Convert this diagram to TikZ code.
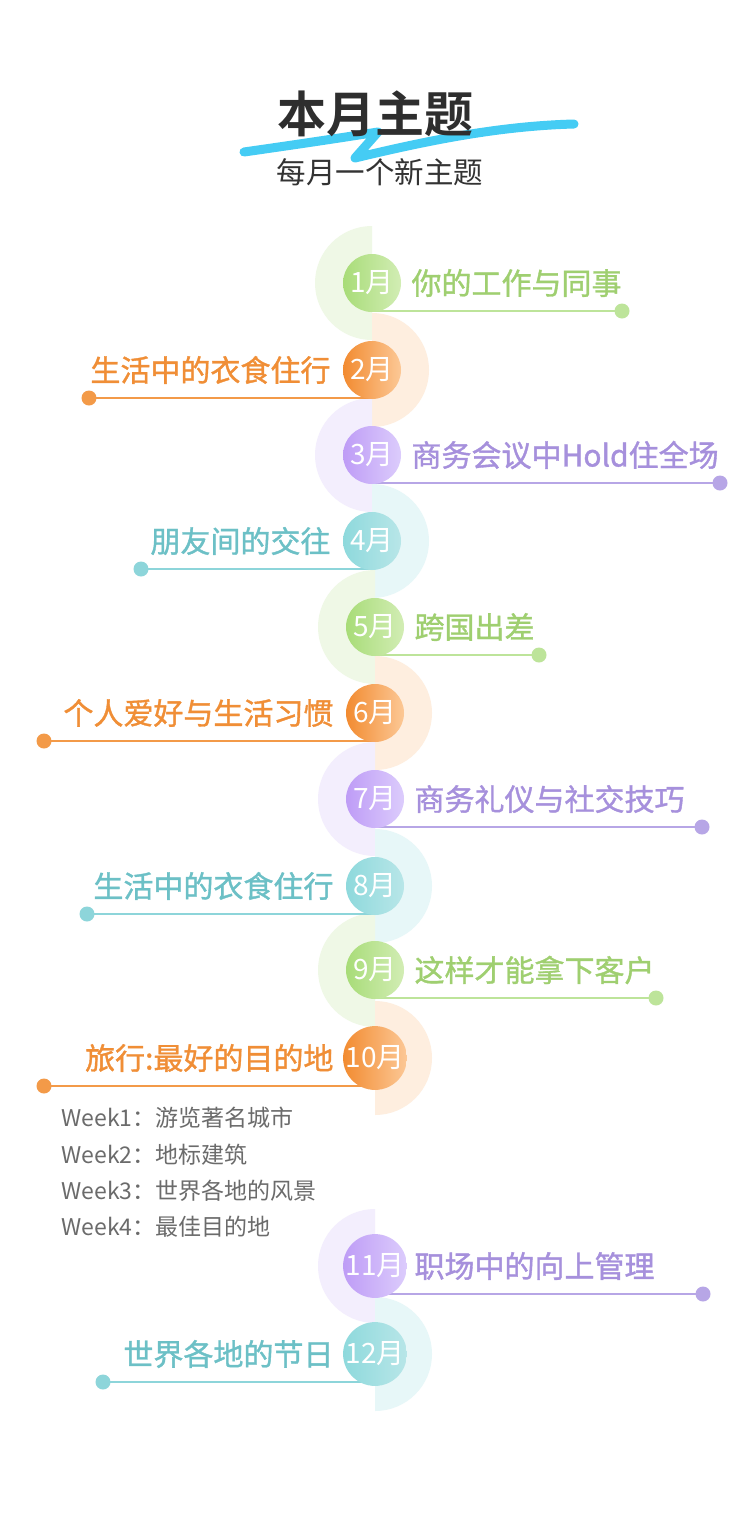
\documentclass[tikz,border=0pt]{standalone}
\usepackage{fontspec}
\setmainfont{Noto Sans CJK SC}
\newfontfamily\cjkb{Noto Sans CJK SC Bold}
\newfontfamily\cjkm[FakeBold=1.2]{Noto Sans CJK SC}
\definecolor{gT}{HTML}{9FCF70}\definecolor{gL}{HTML}{BDE49A}\definecolor{gP}{HTML}{EFF8E6}\definecolor{gA}{HTML}{A8DC78}\definecolor{gB}{HTML}{D2EDB4}
\definecolor{oT}{HTML}{F08E36}\definecolor{oL}{HTML}{F39A48}\definecolor{oP}{HTML}{FEEEDF}\definecolor{oA}{HTML}{F28B30}\definecolor{oB}{HTML}{FCC896}
\definecolor{pT}{HTML}{A690DC}\definecolor{pL}{HTML}{B7A6E6}\definecolor{pP}{HTML}{F3EEFD}\definecolor{pA}{HTML}{BE9CF6}\definecolor{pB}{HTML}{DCCCFC}
\definecolor{tT}{HTML}{6CC0C6}\definecolor{tL}{HTML}{8DD5DA}\definecolor{tP}{HTML}{E7F7F8}\definecolor{tA}{HTML}{8ED9DC}\definecolor{tB}{HTML}{B8E6E8}
\definecolor{sw}{HTML}{45CCF4}
\begin{document}
\begin{tikzpicture}[x=1pt,y=-1pt,
  mtext/.style={font=\cjkm\fontsize{30}{30}\selectfont},
  mcirc/.style={circle,minimum size=58pt,inner sep=0pt,text=white,font=\fontsize{28}{28}\selectfont},
  wk/.style={anchor=west,text=black!58,font=\fontsize{23}{23}\selectfont}]
\useasboundingbox[fill=white] (0,0) rectangle (750,1518);
% title
\draw[sw,line width=9pt,line cap=round,line join=round] (244,152) .. controls (300,144) and (340,138) .. (378,132) -- (355,158) .. controls (430,140) and (500,126) .. (574,124);
\node[font=\cjkb\fontsize{49}{49}\selectfont,text=black!82] (title) at (375,114) {本月主题};
\node[font=\fontsize{29.5}{29.5}\selectfont,text=black!80] (sub) at (380,172) {每月一个新主题};
\def\items{283/1/g/622/你的工作与同事/1月,
370/-1/o/89/生活中的衣食住行/2月,
455/1/p/720/商务会议中Hold住全场/3月,
541/-1/t/141/朋友间的交往/4月,
627/1/g/539/跨国出差/5月,
713/-1/o/44/个人爱好与生活习惯/6月,
799/1/p/702/商务礼仪与社交技巧/7月,
886/-1/t/87/生活中的衣食住行/8月,
970/1/g/656/这样才能拿下客户/9月,
1058/-1/o/44/旅行:最好的目的地/10月,
1266/1/p/703/职场中的向上管理/11月,
1354/-1/t/103/世界各地的节日/12月}
\foreach \y/\s/\c/\dx/\lab/\m [count=\i] in \items {
  \pgfmathsetmacro{\cx}{\i<5 ? 372 : 375}
  \ifnum\s=1
    \fill[\c P] (\cx,\y-57) arc[start angle=270,end angle=90,radius=57] -- cycle;
  \else
    \fill[\c P] (\cx,\y-57) arc[start angle=270,end angle=450,radius=57] -- cycle;
  \fi
}
\foreach \y/\s/\c/\dx/\lab/\m [count=\i] in \items {
  \pgfmathsetmacro{\cx}{\i<5 ? 372 : 375}
  \coordinate (e\i) at (\dx,\y+28);
  \draw[\c L,line width=2.6pt] (\cx,\y+28) -- (e\i);
  \fill[\c L] (e\i) circle[radius=7.5];
  \node[mcirc,left color=\c A,right color=\c B] (m\i) at (\cx,\y) {\m};
  \ifnum\s=1
    \node[mtext,anchor=west,text=\c T] (l\i) at (\cx+36,\y) {\lab};
  \else
    \node[mtext,anchor=east,text=\c T] (l\i) at (\cx-38,\y) {\lab};
  \fi
}
\node[wk] (w1) at (58,1118) {Week1：游览著名城市};
\node[wk] (w2) at (58,1155) {Week2：地标建筑};
\node[wk] (w3) at (58,1191) {Week3：世界各地的风景};
\node[wk] (w4) at (58,1227) {Week4：最佳目的地};
\end{tikzpicture}
\end{document}
